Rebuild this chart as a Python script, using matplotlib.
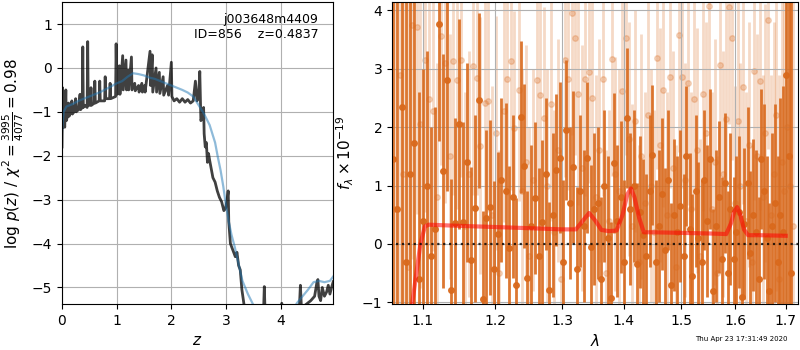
import matplotlib
matplotlib.use('Agg')
import matplotlib.pyplot as plt
from matplotlib.ticker import NullLocator

# --- left panel: log p(z)
z_grid = [0.00, 0.01, 0.02, 0.04, 0.05, 0.07, 0.08, 0.10, 0.12, 0.13,
          0.16, 0.18, 0.19, 0.22, 0.25, 0.26, 0.30, 0.33, 0.34, 0.37,
          0.38, 0.39, 0.42, 0.46, 0.47, 0.48, 0.52, 0.53, 0.54, 0.59,
          0.60, 0.61, 0.68, 0.69, 0.70, 0.78, 0.79, 0.80, 0.87, 0.88,
          0.89, 0.98, 0.99, 1.00, 1.01, 1.05, 1.06, 1.11, 1.12, 1.17,
          1.18, 1.21, 1.22, 1.27, 1.28, 1.33, 1.34, 1.40, 1.41, 1.46,
          1.47, 1.51, 1.52, 1.61, 1.62, 1.65, 1.66, 1.72, 1.73, 1.78,
          1.79, 1.85, 1.86, 1.93, 1.95, 2.00, 2.01, 2.05, 2.10, 2.15,
          2.20, 2.25, 2.30, 2.35, 2.40, 2.44, 2.47, 2.50, 2.52, 2.54,
          2.57, 2.59, 2.60, 2.62, 2.64, 2.66, 2.68, 2.70, 2.73, 2.76,
          2.80, 2.84, 2.88, 2.92, 2.96, 2.99, 3.02, 3.04, 3.05, 3.08,
          3.11, 3.14, 3.17, 3.20, 3.23, 3.26, 3.29, 3.33, 3.40, 3.50,
          3.60, 3.68, 3.70, 3.72, 3.80, 3.90, 4.02, 4.05, 4.15, 4.25,
          4.34, 4.36, 4.38, 4.45, 4.55, 4.62, 4.66, 4.68, 4.70, 4.73,
          4.76, 4.80, 4.84, 4.87, 4.90, 4.93, 4.96]
log_pz = [-1.80, -0.45, -1.35, -1.15, -1.35, -0.50, -1.20, -1.10, -0.80, -1.10,
          -1.00, -0.75, -1.05, -1.00, -0.70, -1.00, -0.95, -0.60, -0.95, -0.90,
          0.48, -0.90, -0.85, -0.90, 0.60, -0.85, -0.85, -0.45, -0.85, -0.80,
          -0.30, -0.80, -0.75, -0.30, -0.75, -0.75, -0.20, -0.70, -0.70, -0.35,
          -0.70, -0.65, 0.55, -0.20, -0.60, 0.05, -0.60, 0.28, -0.50, 0.18,
          -0.50, -0.05, -0.50, 0.25, -0.50, -0.35, -0.52, -0.40, -0.55, -0.35,
          -0.55, -0.40, -0.55, 0.38, -0.40, 0.30, -0.55, 0.00, -0.55, -0.10,
          -0.58, -0.20, -0.62, -0.40, -0.62, 0.13, -0.65, -0.75, -0.70, -0.78,
          -0.70, -0.78, -0.72, -0.80, -0.75, -0.30, -0.75, -0.60, -0.08, -1.20,
          -1.10, -0.90, -1.50, -1.80, -1.70, -2.15, -1.95, -2.10, -2.30, -2.50,
          -2.60, -2.80, -2.95, -3.05, -3.25, -3.20, -3.00, -2.80, -3.50, -4.00,
          -4.10, -4.20, -4.30, -4.20, -4.50, -4.60, -5.05, -5.40, -5.80, -6.00,
          -5.90, -5.80, -4.98, -5.80, -5.90, -5.80, -5.36, -5.60, -5.70, -5.60,
          -5.50, -4.95, -5.50, -5.40, -5.30, -5.20, -4.90, -4.82, -5.20, -5.30,
          -5.00, -5.20, -5.10, -4.95, -5.15, -5.00, -4.87]

z_smooth = [0.00, 0.03, 0.08, 0.20, 0.30, 0.50, 0.70, 0.90, 1.00, 1.10,
            1.20, 1.30, 1.40, 1.50, 1.60, 1.70, 1.80, 1.90, 2.00, 2.10,
            2.20, 2.30, 2.40, 2.50, 2.60, 2.70, 2.80, 2.85, 2.90, 2.95,
            3.00, 3.05, 3.10, 3.16, 3.20, 3.30, 3.40, 3.50, 3.60, 3.80,
            4.00, 4.20, 4.30, 4.40, 4.50, 4.60, 4.70, 4.80, 4.90, 4.96]
log_pz_smooth = [-1.45, -1.00, -0.88, -0.82, -0.75, -0.65, -0.55, -0.42, -0.35, -0.30,
                 -0.20, -0.12, -0.14, -0.17, -0.22, -0.25, -0.30, -0.35, -0.40, -0.45,
                 -0.50, -0.56, -0.65, -0.85, -1.05, -1.30, -1.70, -2.03, -2.33, -2.70,
                 -3.15, -3.50, -3.80, -4.08, -4.30, -4.85, -5.15, -5.40, -5.60, -5.80,
                 -5.80, -5.55, -5.35, -5.20, -5.05, -4.88, -4.85, -4.88, -4.85, -4.75]

# --- right panel: spectrum, two sets of points
dark_wave = [1.062, 1.067, 1.073, 1.078, 1.084, 1.089, 1.095, 1.100, 1.106, 1.111,
             1.117, 1.122, 1.127, 1.133, 1.138, 1.144, 1.149, 1.155, 1.160, 1.166,
             1.171, 1.177, 1.182, 1.187, 1.193, 1.198, 1.204, 1.209, 1.215, 1.220,
             1.226, 1.231, 1.237, 1.242, 1.247, 1.253, 1.258, 1.264, 1.269, 1.275,
             1.280, 1.286, 1.291, 1.297, 1.302, 1.307, 1.313, 1.318, 1.324, 1.329,
             1.335, 1.340, 1.346, 1.351, 1.357, 1.362, 1.367, 1.373, 1.378, 1.384,
             1.389, 1.395, 1.400, 1.406, 1.411, 1.417, 1.422, 1.427, 1.433, 1.438,
             1.444, 1.449, 1.455, 1.460, 1.466, 1.471, 1.477, 1.482, 1.487, 1.493,
             1.498, 1.504, 1.509, 1.515, 1.520, 1.526, 1.531, 1.537, 1.542, 1.547,
             1.553, 1.558, 1.564, 1.569, 1.575, 1.580, 1.586, 1.591, 1.597, 1.602,
             1.607, 1.613, 1.618, 1.624, 1.629, 1.635, 1.640, 1.646, 1.651, 1.657,
             1.662, 1.667, 1.673, 1.678, 1.684, 1.689, 1.695, 1.700, 1.706, 1.711]
dark_flux = [1.45, 0.60, 2.34, -0.30, 1.20, 1.72, -0.60, 0.40, 1.00, -0.20,
             0.25, 3.77, 1.25, 2.81, -0.79, 0.36, 2.05, 0.38, 1.40, -0.28,
             0.61, 2.46, -0.94, 0.45, 0.63, -0.43, 0.17, 1.10, 0.91, -0.07,
             0.81, -0.71, 2.17, 1.33, -0.59, 0.30, 0.78, -0.20, 0.38, 1.20,
             -0.79, 0.50, 1.26, 1.48, -0.30, 1.95, 0.70, 1.32, -0.42, 0.90,
             0.30, 1.48, -0.05, 0.60, 0.70, -0.60, 1.00, 0.10, -0.92, 1.38,
             0.40, 0.80, -0.30, 2.15, 0.60, 1.00, -0.35, 0.55, 0.15, -0.20,
             0.90, 1.52, -0.30, 0.30, 0.85, -0.10, 1.10, -0.70, 0.50, 0.20,
             0.65, -0.20, 1.50, 0.25, -0.55, 0.90, 0.10, -0.30, 1.10, 0.40,
             1.45, -0.80, 0.30, 0.80, -0.25, 1.05, -0.50, 0.60, -0.25, 0.20,
             0.55, -0.90, 0.35, 1.05, -0.15, 0.50, 0.20, -0.60, 1.46, 0.90,
             0.10, -0.80, 0.30, 0.70, -0.30, 0.50, 0.20, 2.89, 1.50, -0.50]
dark_err = [9.0, 9.0, 8.0, 7.0, 5.0, 4.0, 3.2, 2.6, 2.3, 2.2,
            2.1, 2.0, 2.0, 1.9, 1.9, 1.8, 1.8, 1.7, 1.7, 1.6,
            1.6, 1.5, 1.5, 1.5, 1.5, 1.5, 1.4, 1.4, 1.5, 1.4,
            1.4, 1.5, 1.3, 1.4, 1.5, 1.4, 1.3, 1.5, 1.4, 1.3,
            1.5, 1.4, 1.3, 1.3, 1.4, 1.2, 1.3, 1.3, 1.4, 1.3,
            1.3, 1.3, 1.4, 1.3, 1.3, 1.4, 1.3, 1.4, 1.3, 1.2,
            1.3, 1.3, 1.4, 1.2, 1.3, 1.3, 1.4, 1.3, 1.3, 1.4,
            1.3, 1.2, 1.4, 1.3, 1.3, 1.4, 1.2, 1.4, 1.3, 1.3,
            1.3, 1.4, 1.2, 1.3, 1.4, 1.3, 1.3, 1.4, 1.2, 1.3,
            1.2, 1.4, 1.3, 1.3, 1.4, 1.2, 1.4, 1.3, 1.4, 1.3,
            1.3, 1.4, 1.3, 1.3, 1.4, 1.3, 1.4, 1.4, 1.2, 1.5,
            1.4, 1.5, 1.6, 1.7, 1.8, 2.0, 2.5, 8.0, 9.0, 9.0]

light_wave = [1.064, 1.070, 1.075, 1.081, 1.086, 1.092, 1.097, 1.103, 1.108, 1.114,
              1.119, 1.125, 1.130, 1.136, 1.141, 1.146, 1.152, 1.157, 1.163, 1.168,
              1.174, 1.179, 1.185, 1.190, 1.196, 1.201, 1.206, 1.212, 1.217, 1.223,
              1.228, 1.234, 1.239, 1.245, 1.250, 1.256, 1.261, 1.266, 1.272, 1.277,
              1.283, 1.288, 1.294, 1.299, 1.305, 1.310, 1.316, 1.321, 1.326, 1.332,
              1.337, 1.343, 1.348, 1.354, 1.359, 1.365, 1.370, 1.376, 1.381, 1.386,
              1.392, 1.397, 1.403, 1.408, 1.414, 1.419, 1.425, 1.430, 1.436, 1.441,
              1.446, 1.452, 1.457, 1.463, 1.468, 1.474, 1.479, 1.485, 1.490, 1.496,
              1.501, 1.506, 1.512, 1.517, 1.523, 1.528, 1.534, 1.539, 1.545, 1.550,
              1.556, 1.561, 1.566, 1.572, 1.577, 1.583, 1.588, 1.594, 1.599, 1.605,
              1.610, 1.616, 1.621, 1.626, 1.632, 1.637, 1.643, 1.648, 1.654, 1.659,
              1.665, 1.670, 1.676, 1.681, 1.686, 1.692, 1.697, 1.703, 1.708, 1.714]
light_flux = [0.60, 2.89, 1.20, -0.40, 3.74, 3.72, 2.05, 3.15, 2.48, 2.28,
              0.80, 3.56, 3.10, 1.50, 3.13, 2.80, 3.15, 0.30, 1.20, 3.04,
              2.84, 1.68, 2.41, 2.45, 0.50, 1.90, -0.50, 2.27, 2.83, 3.13,
              1.99, 2.64, 0.90, 1.40, -0.20, 1.10, 2.80, 2.55, 2.16, 1.00,
              2.40, 0.20, 1.60, -0.60, 3.15, 2.83, 3.96, 3.52, 2.56, 1.30,
              2.82, 2.95, 2.50, 0.80, 1.60, 2.82, -0.50, 0.40, 3.16, 1.20,
              0.90, 2.62, 3.53, 1.80, 0.30, 2.10, -0.30, 1.50, 0.70, 2.20,
              1.00, 0.20, 3.19, 1.70, 2.64, 0.50, 2.85, 1.30, -0.40, 3.58,
              2.85, 1.10, 2.76, 0.60, 2.48, 1.60, -0.20, 2.56, 1.90, 4.07,
              0.60, 1.40, -0.50, 3.06, 1.20, 2.14, 4.05, 3.53, 0.70, 2.10,
              1.00, 2.68, 0.40, 1.70, -0.30, 2.96, 1.50, 2.79, 0.80, 1.90,
              3.83, 0.50, 1.20, 2.20, -0.60, 1.40, 0.90, 2.00, 1.00, 0.30]
light_err = [9.0, 8.0, 6.0, 5.0, 4.0, 3.2, 2.8, 2.6, 2.5, 2.4,
             2.3, 2.2, 2.4, 2.1, 2.3, 2.2, 2.0, 2.3, 2.1, 2.2,
             2.0, 2.2, 2.1, 1.9, 2.2, 2.0, 2.1, 1.9, 2.0, 2.2,
             2.0, 1.9, 2.1, 2.0, 2.2, 1.9, 2.0, 2.1, 1.9, 2.0,
             2.0, 2.1, 1.9, 2.2, 2.0, 1.9, 2.1, 2.0, 1.9, 2.1,
             2.0, 1.9, 2.0, 2.1, 1.9, 2.0, 2.1, 1.9, 2.0, 2.0,
             2.1, 1.9, 2.0, 2.0, 2.1, 1.9, 2.0, 2.1, 1.9, 2.0,
             2.0, 2.1, 1.9, 2.0, 2.0, 2.1, 1.9, 2.0, 2.1, 2.0,
             1.9, 2.0, 2.1, 2.0, 1.9, 2.1, 2.0, 2.0, 1.9, 2.1,
             2.0, 2.1, 2.0, 1.9, 2.1, 2.0, 2.0, 2.1, 2.0, 2.1,
             2.1, 2.0, 2.2, 2.1, 2.0, 2.2, 2.1, 2.2, 2.1, 2.2,
             2.2, 2.4, 2.6, 3.0, 3.5, 4.5, 6.0, 8.0, 9.0, 9.0]

model_wave = [1.086, 1.097, 1.103, 1.108, 1.150, 1.200, 1.250, 1.300, 1.322, 1.333,
              1.343, 1.353, 1.363, 1.375, 1.388, 1.398, 1.406, 1.412, 1.418, 1.426,
              1.434, 1.450, 1.500, 1.550, 1.583, 1.592, 1.598, 1.604, 1.610, 1.617,
              1.625, 1.650, 1.700]
model_flux = [-1.05, 0.00, 0.30, 0.33, 0.31, 0.29, 0.27, 0.25, 0.25, 0.40,
              0.53, 0.40, 0.24, 0.22, 0.23, 0.50, 0.85, 0.95, 0.80, 0.45,
              0.20, 0.20, 0.19, 0.18, 0.17, 0.35, 0.55, 0.63, 0.50, 0.25,
              0.15, 0.15, 0.14]

wave_ticks = [1.1, 1.2, 1.3, 1.4, 1.5, 1.6, 1.7]
orange = '#d9691c'

fig = plt.figure(figsize=(8, 3.5), dpi=100)
ax1 = fig.add_axes([0.0775, 0.131, 0.339, 0.863])
ax2 = fig.add_axes([0.49, 0.131, 0.5075, 0.863])

# left
ax1.plot(z_grid, log_pz, color='k', alpha=0.75, lw=2)
ax1.plot(z_smooth, log_pz_smooth, color='#1f77b4', alpha=0.5, lw=1.6)
ax1.set_xlim(0, 4.96)
ax1.set_ylim(-5.38, 1.5)
ax1.set_xticks([0, 1, 2, 3, 4])
ax1.set_yticks([-5, -4, -3, -2, -1, 0, 1])
ax1.grid()
ax1.set_xlabel(r'$z$', fontsize=11)
ax1.set_ylabel(r'$\log\,p(z)$ / $\chi^2=\frac{3995}{4077}=0.98$', fontsize=11)
ax1.text(0.945, 0.965, 'j003648m4409\nID=856    z=0.4837', transform=ax1.transAxes,
         ha='right', va='top', fontsize=9)

# right
ax2.errorbar(light_wave, light_flux, yerr=light_err, fmt='o', color=orange, alpha=0.25,
             ms=4, elinewidth=2, capsize=0, zorder=1)
ax2.errorbar(dark_wave, dark_flux, yerr=dark_err, fmt='o', color=orange, alpha=0.9,
             ms=4, elinewidth=2, capsize=0, zorder=2)
ax2.plot(model_wave, model_flux, color='red', alpha=0.55, lw=3, zorder=3)
ax2.plot([1.0, 2.0], [0, 0], color='k', linestyle=':', lw=1.6, alpha=0.8, zorder=4)
ax2.set_xscale('log')
ax2.set_xlim(1.0603, 1.7253)
ax2.set_ylim(-1.03, 4.14)
ax2.set_xticks(wave_ticks)
ax2.set_xticklabels([str(t) for t in wave_ticks])
ax2.xaxis.set_minor_locator(NullLocator())
ax2.grid()
ax2.set_xlabel(r'$\lambda$', fontsize=11)
ax2.set_ylabel(r'$f_\lambda\times10^{-19}$', fontsize=11)

fig.text(0.985, 0.022, 'Thu Apr 23 17:31:49 2020', ha='right', va='bottom', fontsize=5)

fig.savefig('out.png', dpi=100)
